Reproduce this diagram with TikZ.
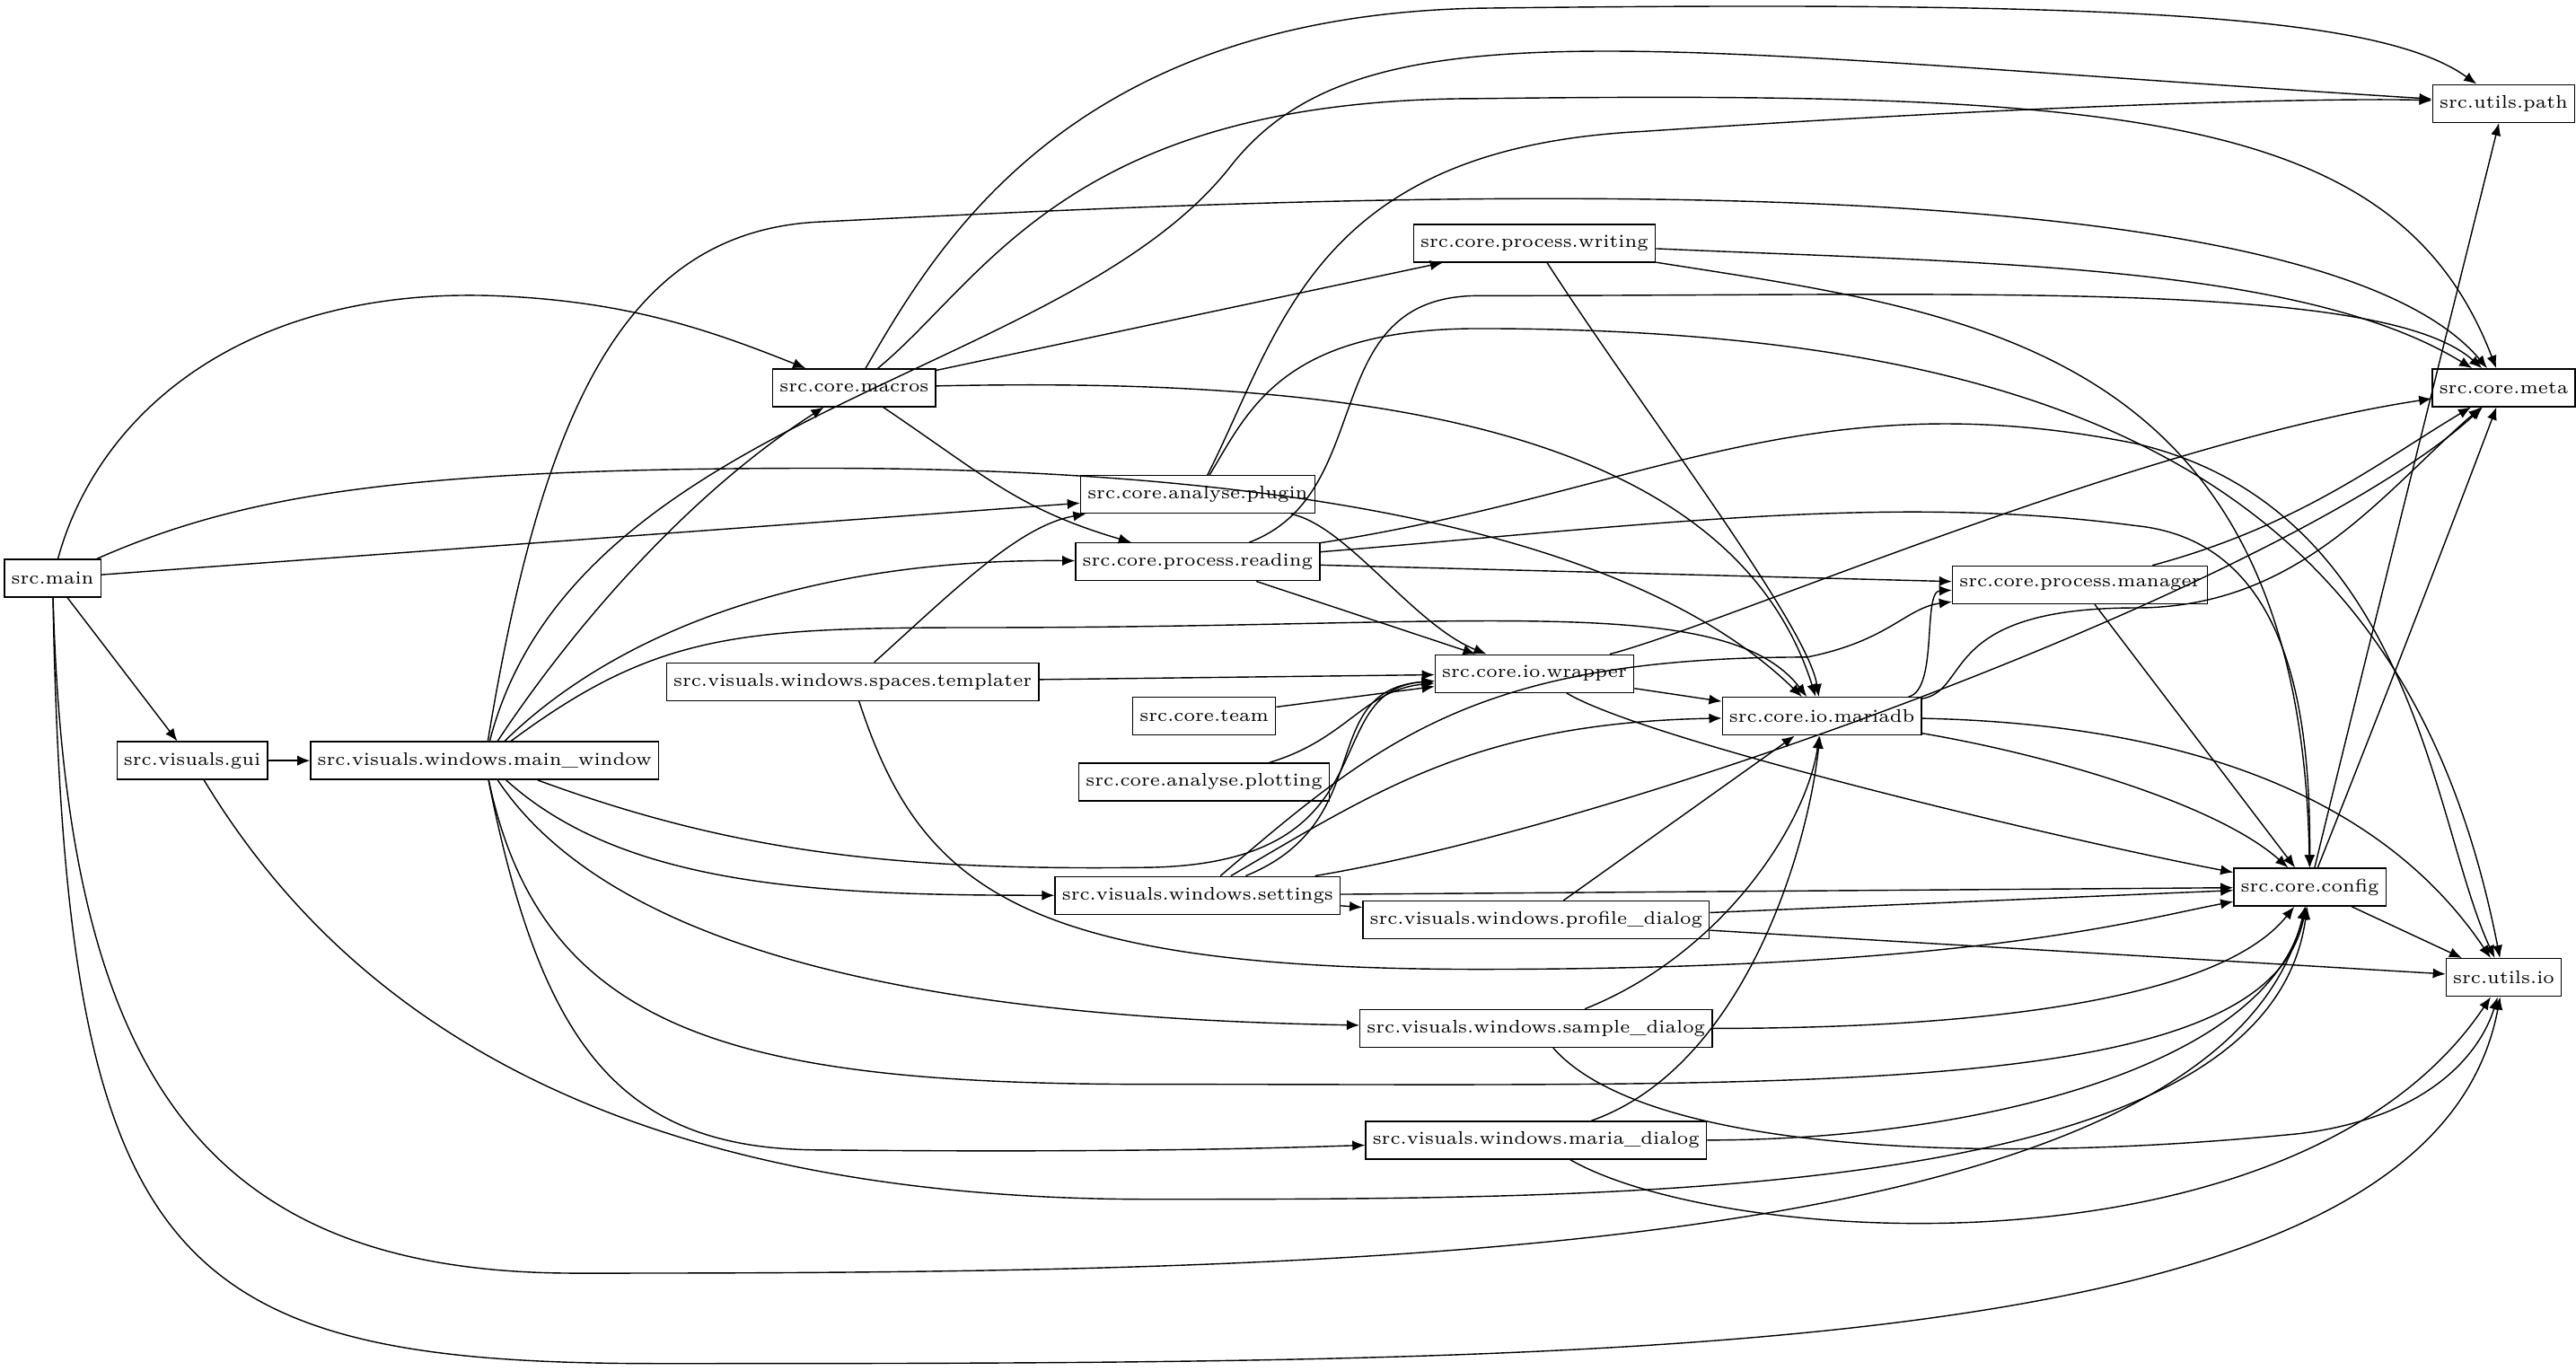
\documentclass[tikz,border=0pt]{standalone}
\usetikzlibrary{arrows.meta}
\begin{document}
\begin{tikzpicture}[
                    x=0.0183cm, y=-0.0183cm,
                    mod/.style={draw, rectangle, thin, inner sep=2.2pt, minimum height=0.42cm, font=\fontsize{5.8}{7}\selectfont},
                    dep/.style={-{Latex[length=4pt,width=3.2pt]}, thin},
                ]
                \useasboundingbox (0,0) rectangle (1568,834);

                % modules
                \node[mod] (main) at (32,352) {src.main} ;
                \node[mod] (gui) at (117,463) {src.visuals.gui} ;
                \node[mod] (mainwin) at (295,463) {src.visuals.windows.main\_window} ;
                \node[mod] (macros) at (520,236) {src.core.macros} ;
                \node[mod] (plugin) at (729,301) {src.core.analyse.plugin} ;
                \node[mod] (reading) at (729,342) {src.core.process.reading} ;
                \node[mod] (templater) at (519,415) {src.visuals.windows.spaces.templater} ;
                \node[mod] (team) at (733,436) {src.core.team} ;
                \node[mod] (plotting) at (733,476) {src.core.analyse.plotting} ;
                \node[mod] (wrapper) at (934,410) {src.core.io.wrapper} ;
                \node[mod] (writing) at (934,148) {src.core.process.writing} ;
                \node[mod] (mariadb) at (1109,436) {src.core.io.mariadb} ;
                \node[mod] (manager) at (1266,356) {src.core.process.manager} ;
                \node[mod] (settings) at (729,545) {src.visuals.windows.settings} ;
                \node[mod] (profile) at (935,560) {src.visuals.windows.profile\_dialog} ;
                \node[mod] (sample) at (935,626) {src.visuals.windows.sample\_dialog} ;
                \node[mod] (mariadlg) at (935,694) {src.visuals.windows.maria\_dialog} ;
                \node[mod] (config) at (1406,540) {src.core.config} ;
                \node[mod] (upath) at (1524,63) {src.utils.path} ;
                \node[mod] (meta) at (1524,236) {src.core.meta} ;
                \node[mod] (uio) at (1524,595) {src.utils.io} ;

                % src.main
                \draw[dep] (main) .. controls (60,250) and (150,175) .. (300,180) .. controls (380,183) and (430,200) .. (macros) ;
                \draw[dep] (main) -- (plugin) ;
                \draw[dep] (main) .. controls (150,300) and (250,285) .. (500,285) .. controls (800,285) and (1000,330) .. (mariadb) ;
                \draw[dep] (main) -- (gui) ;
                \draw[dep] (main) .. controls (40,650) and (120,775) .. (350,775) .. controls (800,775) and (1350,770) .. (config) ;
                \draw[dep] (main) .. controls (40,770) and (100,830) .. (400,830) .. controls (1000,830) and (1480,830) .. (uio) ;
                % src.visuals.gui
                \draw[dep] (gui) -- (mainwin) ;
                \draw[dep] (gui) .. controls (200,600) and (350,730) .. (700,730) .. controls (1000,730) and (1380,730) .. (config) ;
                % main window
                \draw[dep] (mainwin) .. controls (350,380) and (420,300) .. (macros) ;
                \draw[dep] (mainwin) .. controls (380,380) and (500,340) .. (reading) ;
                \draw[dep] (mainwin) .. controls (350,250) and (650,230) .. (750,100) .. controls (830,0) and (1000,30) .. (upath) ;
                \draw[dep] (mainwin) .. controls (330,250) and (380,140) .. (500,135) .. controls (800,120) and (1400,90) .. (meta) ;
                \draw[dep] (mainwin) .. controls (400,385) and (450,382) .. (600,382) .. controls (900,382) and (1050,360) .. (mariadb) ;
                \draw[dep] (mainwin) .. controls (450,520) and (550,530) .. (700,528) .. controls (850,525) and (800,420) .. (wrapper) ;
                \draw[dep] (mainwin) .. controls (380,540) and (500,545) .. (settings) ;
                \draw[dep] (mainwin) .. controls (380,590) and (600,620) .. (sample) ;
                \draw[dep] (mainwin) .. controls (330,640) and (380,700) .. (500,700) .. controls (700,702) and (800,698) .. (mariadlg) ;
                \draw[dep] (mainwin) .. controls (330,630) and (450,660) .. (700,660) .. controls (1100,660) and (1380,670) .. (config) ;
                % src.core.macros
                \draw[dep] (macros) .. controls (570,150) and (650,10) .. (900,5) .. controls (1300,0) and (1450,10) .. (upath) ;
                \draw[dep] (macros) .. controls (600,170) and (650,60) .. (900,60) .. controls (1300,55) and (1460,70) .. (meta) ;
                \draw[dep] (macros) -- (writing) ;
                \draw[dep] (macros) .. controls (600,290) and (620,310) .. (reading) ;
                \draw[dep] (macros) .. controls (800,230) and (1050,250) .. (mariadb) ;
                % analyse plugin
                \draw[dep] (plugin) .. controls (780,200) and (800,90) .. (1000,80) .. controls (1300,60) and (1450,60) .. (upath) ;
                \draw[dep] (plugin) .. controls (760,250) and (780,200) .. (900,200) .. controls (1300,200) and (1470,320) .. (uio) ;
                \draw[dep] (plugin) .. controls (820,320) and (860,380) .. (wrapper) ;
                % process reading
                \draw[dep] (reading) .. controls (840,300) and (800,180) .. (900,180) .. controls (1200,180) and (1450,170) .. (meta) ;
                \draw[dep] (reading) .. controls (1000,300) and (1100,230) .. (1300,270) .. controls (1470,310) and (1480,500) .. (uio) ;
                \draw[dep] (reading) .. controls (1000,320) and (1150,300) .. (1300,320) .. controls (1400,330) and (1406,450) .. (config) ;
                \draw[dep] (reading) -- (manager) ;
                \draw[dep] (reading) -- (wrapper) ;
                % templater
                \draw[dep] (templater) .. controls (580,360) and (620,320) .. (plugin) ;
                \draw[dep] (templater) -- (wrapper) ;
                \draw[dep] (templater) .. controls (560,540) and (620,590) .. (900,590) .. controls (1200,590) and (1300,560) .. (config) ;
                % small ones
                \draw[dep] (team) -- (wrapper) ;
                \draw[dep] (plotting) .. controls (820,450) and (830,420) .. (wrapper) ;
                % wrapper
                \draw[dep] (wrapper) -- (mariadb) ;
                \draw[dep] (wrapper) .. controls (1050,380) and (1300,270) .. (meta) ;
                \draw[dep] (wrapper) .. controls (1000,450) and (1250,510) .. (config) ;
                % writing
                \draw[dep] (writing) .. controls (1200,160) and (1400,160) .. (meta) ;
                \draw[dep] (writing) .. controls (1200,190) and (1400,210) .. (config) ;
                \draw[dep] (writing) .. controls (1000,250) and (1100,380) .. (mariadb) ;
                % mariadb
                \draw[dep] (mariadb) .. controls (1180,420) and (1170,360) .. (manager) ;
                \draw[dep] (mariadb) .. controls (1200,420) and (1180,370) .. (1300,370) .. controls (1400,370) and (1450,300) .. (meta) ;
                \draw[dep] (mariadb) .. controls (1250,460) and (1350,490) .. (config) ;
                \draw[dep] (mariadb) .. controls (1300,440) and (1440,470) .. (uio) ;
                % manager
                \draw[dep] (manager) .. controls (1400,320) and (1450,280) .. (meta) ;
                \draw[dep] (manager) -- (config) ;
                % settings
                \draw[dep] (settings) .. controls (840,500) and (800,420) .. (wrapper) ;
                \draw[dep] (settings) .. controls (840,480) and (900,440) .. (mariadb) ;
                \draw[dep] (settings) .. controls (840,450) and (900,400) .. (1100,400) .. controls (1150,390) and (1160,370) .. (manager) ;
                \draw[dep] (settings) .. controls (1000,500) and (1400,350) .. (meta) ;
                \draw[dep] (settings) -- (config) ;
                \draw[dep] (settings) -- (profile) ;
                % dialogs
                \draw[dep] (profile) -- (mariadb) ;
                \draw[dep] (profile) -- (config) ;
                \draw[dep] (profile) -- (uio) ;
                \draw[dep] (sample) .. controls (1050,580) and (1100,500) .. (mariadb) ;
                \draw[dep] (sample) .. controls (1200,626) and (1350,610) .. (config) ;
                \draw[dep] (sample) .. controls (1000,700) and (1200,710) .. (1400,690) .. controls (1480,680) and (1510,640) .. (uio) ;
                \draw[dep] (mariadlg) .. controls (1060,650) and (1100,520) .. (mariadb) ;
                \draw[dep] (mariadlg) .. controls (1200,694) and (1380,650) .. (config) ;
                \draw[dep] (mariadlg) .. controls (1050,760) and (1400,780) .. (uio) ;
                % config
                \draw[dep] (config) .. controls (1440,400) and (1490,200) .. (upath) ;
                \draw[dep] (config) .. controls (1450,430) and (1500,300) .. (meta) ;
                \draw[dep] (config) -- (uio) ;
            \end{tikzpicture}
\end{document}
